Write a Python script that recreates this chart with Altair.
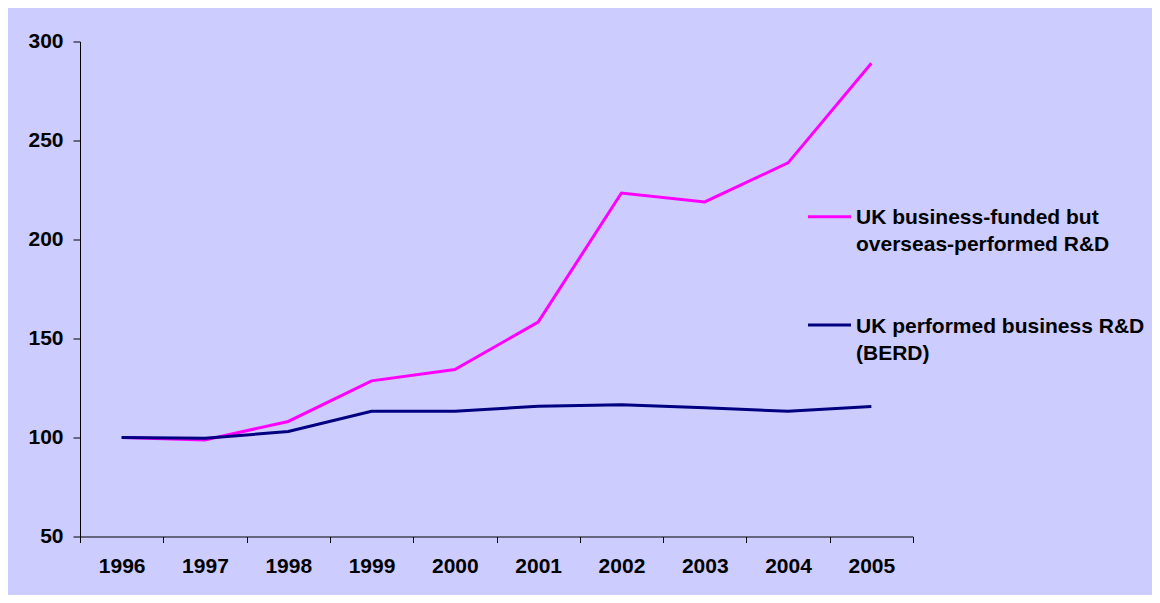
import altair as alt
import pandas as pd

years = ["1996", "1997", "1998", "1999", "2000", "2001", "2002", "2003", "2004", "2005"]
overseas = [100, 98.8, 108.1, 128.6, 134.3, 158.3, 223.5, 219.0, 238.7, 289.0]
berd = [100, 99.6, 103.0, 113.2, 113.2, 115.8, 116.6, 115.0, 113.2, 115.7]
series = ["UK business-funded but overseas-performed R&D", "UK performed business R&D (BERD)"]
legend_lines = [["UK business-funded but", "overseas-performed R&D"],
                ["UK performed business R&D", "(BERD)"]]
colors = ["#FF00FF", "#000080"]
FONT = "Liberation Sans"

rows = []
for name, vals in zip(series, [overseas, berd]):
    for y, v in zip(years, vals):
        rows.append({"year": y, "value": v, "series": name})
df = pd.DataFrame(rows)

lines = alt.Chart(df).mark_line(strokeWidth=3).encode(
    x=alt.X("year:O", bandPosition=0.5,
            scale=alt.Scale(type="band", paddingInner=0, paddingOuter=0),
            axis=alt.Axis(title=None, labelAngle=0, tickBand="extent", tickSize=6,
                          labelPadding=13, labelFontSize=21)),
    y=alt.Y("value:Q", scale=alt.Scale(domain=[50, 300], nice=False, zero=False),
            axis=alt.Axis(title=None, values=[50, 100, 150, 200, 250, 300], tickSize=7,
                          labelPadding=10, labelFontSize=21, grid=False)),
    color=alt.Color("series:N", scale=alt.Scale(domain=series, range=colors), legend=None),
)

one = pd.DataFrame({"k": [0]})
legend_layers = []
for i, (txt, col) in enumerate(zip(legend_lines, colors)):
    ypos = 175.2 + i * 108.3
    legend_layers.append(
        alt.Chart(one).mark_rule(strokeWidth=3, color=col).encode(
            x=alt.value(728), x2=alt.value(771), y=alt.value(ypos))
    )
    legend_layers.append(
        alt.Chart(one).mark_text(text=txt, lineHeight=27, align="left", baseline="alphabetic",
                                 fontSize=21, fontWeight="bold", font=FONT, color="#000000").encode(
            x=alt.value(776), y=alt.value(ypos + 7.5))
    )

chart = alt.layer(lines, *legend_layers).properties(
    width=833, height=495,
    autosize=alt.AutoSizeParams(type="none"),
    padding={"left": 72, "top": 33.5, "right": 239, "bottom": 58.5},
    background="#CCCCFF",
).configure_view(stroke=None, fill="#CCCCFF").configure_axis(
    labelFont=FONT, labelFontWeight="bold", labelColor="#000000",
    domainColor="#000000", tickColor="#000000", domainWidth=1, tickWidth=1,
)

chart.save("out.html", embed_options={"renderer": "svg", "actions": False})
